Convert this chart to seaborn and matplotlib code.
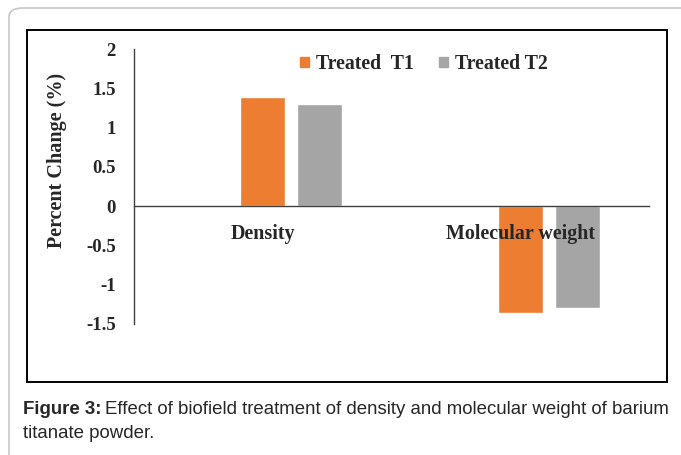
import matplotlib
matplotlib.use("Agg")
import matplotlib.pyplot as plt
import pandas as pd
import seaborn as sns
from matplotlib.patches import Patch, Rectangle, FancyBboxPatch

# datos
categorias = ["Density", "Molecular weight"]
series = ["Treated  T1", "Treated T2"]
treated_t1 = [1.39, -1.36]
treated_t2 = [1.30, -1.29]
yticks = [-1.5, -1, -0.5, 0, 0.5, 1, 1.5, 2]
ytick_labels = ["-1.5", "-1", "-0.5", "0", "0.5", "1", "1.5", "2"]
colores = {"": "white", "Treated  T1": "#ED7D31", "Treated T2": "#A5A5A5"}

df = pd.DataFrame({
    "Categoria": categorias * 2,
    "Serie": [series[0]] * 2 + [series[1]] * 2,
    "Valor": treated_t1 + treated_t2,
})

sns.set_style("white")
plt.rcParams["font.family"] = ["Liberation Serif", "DejaVu Serif"]

W, H = 681, 455
fig = plt.figure(figsize=(W / 100, H / 100), dpi=100)
ax = fig.add_axes([134 / W, 1 - 324 / H, (649 - 134) / W, (324 - 49) / H])

# serie vacia al principio, como en el grafico de Excel original
sns.barplot(data=df, x="Categoria", y="Valor", hue="Serie",
            hue_order=["", series[0], series[1]], palette=colores,
            width=0.666, gap=0.21, order=categorias, legend=False,
            saturation=1, ax=ax, errorbar=None)

ax.set_xlim(-0.5, 1.5)
ax.set_ylim(-1.5, 2)
ax.set_yticks(yticks)
ax.set_yticklabels(ytick_labels)
for s in ["top", "right"]:
    ax.spines[s].set_visible(False)
ax.spines["bottom"].set_position(("data", 0))
ax.spines["bottom"].set_color("#404040")
ax.spines["left"].set_color("#404040")
ax.spines["bottom"].set_linewidth(1.0)
ax.spines["left"].set_linewidth(1.0)
ax.tick_params(axis="both", length=0)
ax.tick_params(axis="y", pad=13, labelsize=13.5)
ax.tick_params(axis="x", pad=13, labelsize=14.4)
for lbl in ax.get_xticklabels() + ax.get_yticklabels():
    lbl.set_fontweight("bold")
# etiquetas de categoria por encima de las barras
ax.xaxis.set_zorder(5)

ax.set_xlabel("")
ax.set_ylabel("Percent Change (%)", fontsize=14.5, fontweight="bold")
ax.yaxis.set_label_coords((67 - 134) / (649 - 134), (324 - 160) / (324 - 49))

handles = [Patch(color=colores[s]) for s in series]
ax.legend(handles, series, loc="center", bbox_to_anchor=(0.563, 0.945), ncol=2,
          frameon=False, handlelength=0.45, handleheight=0.45, handletextpad=0.35,
          columnspacing=1.25, prop={"weight": "bold", "size": 14.3})

# marcos
fig.patches.append(Rectangle((27 / W, 1 - 382 / H), (667 - 27) / W, (382 - 30) / H,
                             transform=fig.transFigure, fill=False,
                             edgecolor="black", linewidth=1.4))
fig.patches.append(FancyBboxPatch((9 / W, -10 / H), (700 - 9) / W, (447 + 10) / H,
                                  boxstyle="round,pad=0,rounding_size=0.02",
                                  transform=fig.transFigure, fill=False,
                                  edgecolor="#c8c8c8", linewidth=1.2))

# pie de figura
t = fig.text(23 / W, 1 - 409 / H, "Figure 3:", fontsize=13.4, fontweight="bold",
             family="Liberation Sans", va="center", ha="left")
fig.canvas.draw()
x1 = t.get_window_extent().x1
fig.text(x1 / W + 4 / W, 1 - 409 / H,
         "Effect of biofield treatment of density and molecular weight of barium",
         fontsize=13.4, family="Liberation Sans", va="center", ha="left")
fig.text(23 / W, 1 - 433 / H, "titanate powder.", fontsize=13.4,
         family="Liberation Sans", va="center", ha="left")

fig.savefig("out.png", dpi=100)
